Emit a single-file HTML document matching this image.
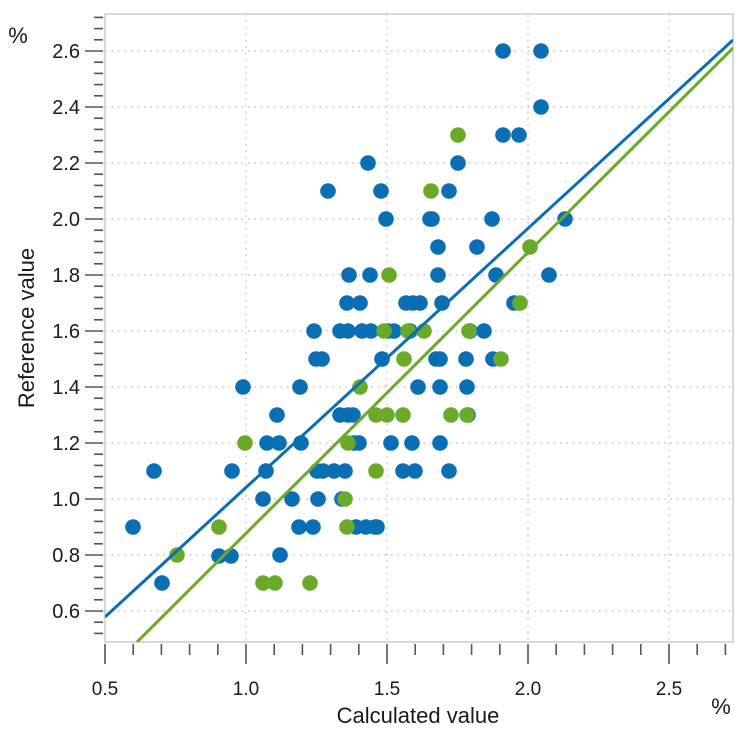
<!DOCTYPE html>
<html><head><style>body{margin:0;background:#fff}svg{display:block}text{font-family:"Liberation Sans",sans-serif;fill:#1a1a1a}</style></head><body>
<svg width="750" height="750" viewBox="0 0 750 750">
<defs><clipPath id="c"><rect x="105" y="14" width="628" height="628"/></clipPath></defs>
<g stroke="#bbb" stroke-dasharray="1.5,5" stroke-width="1.2">
<line x1="246" y1="14" x2="246" y2="642"/><line x1="387" y1="14" x2="387" y2="642"/><line x1="528" y1="14" x2="528" y2="642"/><line x1="669" y1="14" x2="669" y2="642"/>
<line x1="105" y1="51" x2="733" y2="51"/><line x1="105" y1="107" x2="733" y2="107"/><line x1="105" y1="163" x2="733" y2="163"/><line x1="105" y1="219" x2="733" y2="219"/><line x1="105" y1="275" x2="733" y2="275"/><line x1="105" y1="331" x2="733" y2="331"/><line x1="105" y1="387" x2="733" y2="387"/><line x1="105" y1="443" x2="733" y2="443"/><line x1="105" y1="499" x2="733" y2="499"/><line x1="105" y1="555" x2="733" y2="555"/><line x1="105" y1="611" x2="733" y2="611"/>
</g>
<rect x="105" y="14" width="628" height="628" fill="none" stroke="#ccc" stroke-width="1.5"/>
<g id="ticks" stroke="#555" stroke-width="1.6"></g>
<g clip-path="url(#c)">
<g fill="#0a6eb4" id="b"></g>
<g fill="#6aaa28" id="g"></g>
<line x1="105" y1="617" x2="733" y2="40" stroke="#0a6eb4" stroke-width="3"/>
<line x1="137" y1="642" x2="733" y2="48" stroke="#6aaa28" stroke-width="3"/>
</g>
<g font-size="20" text-anchor="end" id="yl"></g>
<g font-size="19" text-anchor="middle">
<text x="105" y="695">0.5</text><text x="246" y="695">1.0</text><text x="387" y="695">1.5</text><text x="528" y="695">2.0</text><text x="669" y="695">2.5</text></g>
<text x="418" y="723" font-size="22" text-anchor="middle">Calculated value</text>
<text x="721" y="714" font-size="22" text-anchor="middle">%</text>
<text x="18" y="43" font-size="22" text-anchor="middle">%</text>
<text transform="translate(34,328) rotate(-90)" font-size="22" text-anchor="middle">Reference value</text>
</svg>
<script>
var ns="http://www.w3.org/2000/svg";
function el(p,t,a){var e=document.createElementNS(ns,t);for(var k in a)e.setAttribute(k,a[k]);p.appendChild(e);return e;}
var tk=document.getElementById("ticks");
for(var i=0;i<=22;i++){var x=105+i*28.2;if(x>734)break;var maj=i%5==0;el(tk,"line",{x1:x,y1:644,x2:x,y2:maj?664:655});}
for(var v=0.52;v<2.75;v+=0.04){var y=51+(2.6-v)*280;if(y<14||y>642)continue;var maj=Math.abs((v*10)%2)<0.01||Math.abs((v*10)%2-2)<0.01;el(tk,"line",{x1:maj?85:94,y1:y,x2:103,y2:y});}
var yl=document.getElementById("yl");
for(var k=0;k<11;k++){var t=el(yl,"text",{x:80,y:51+k*56+7});t.textContent=(2.6-k*0.2).toFixed(1);}
var B=[[133,527],[154,471],[162,583],[219,556],[231,556],[232,471],[243,387],[263,499],[266,471],[267,443],[277,415],[279,443],[280,555],[292,499],[299,527],[313,527],[300,387],[301,443],[314,331],[316,359],[318,499],[317,471],[322,359],[328,191],[323,471],[334,471],[340,331],[340,415],[342,499],[345,471],[347,303],[348,331],[348,415],[349,275],[353,415],[356,527],[359,443],[360,303],[362,331],[354,443],[368,163],[370,275],[371,331],[366,527],[377,527],[375,527],[381,191],[382,359],[386,219],[388,331],[391,443],[394,331],[403,471],[406,303],[413,303],[410,331],[412,443],[415,471],[418,387],[420,303],[430,219],[432,219],[436,359],[440,359],[438,247],[440,443],[438,275],[442,303],[440,387],[449,471],[449,191],[458,163],[466,359],[467,387],[468,415],[470,331],[477,247],[484,331],[492,219],[493,359],[496,275],[503,51],[503,135],[514,303],[519,135],[541,51],[541,107],[549,275],[565,219]];
var G=[[177,555],[219,527],[245,443],[263,583],[275,583],[310,583],[345,499],[347,527],[348,443],[360,387],[389,275],[384,331],[376,415],[387,415],[376,471],[403,415],[404,359],[408,331],[424,331],[431,191],[451,415],[458,135],[467,415],[469,331],[501,359],[520,303],[530,247]];
var bg=document.getElementById("b"),gg=document.getElementById("g");
B.forEach(function(p){el(bg,"circle",{cx:p[0],cy:p[1],r:7.8})});
G.forEach(function(p){el(gg,"circle",{cx:p[0],cy:p[1],r:7.8})});
</script>
</body></html>
